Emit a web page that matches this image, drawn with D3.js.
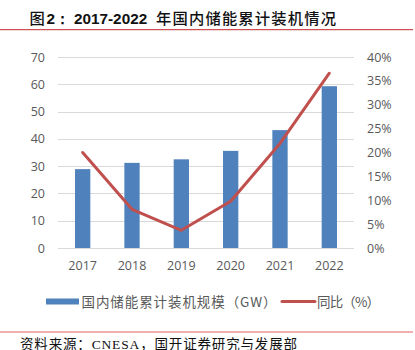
<!DOCTYPE html>
<html><head><meta charset="utf-8">
<script src="https://cdn.jsdelivr.net/npm/d3@7/dist/d3.min.js"></script>
<style>body{margin:0;background:#fff}svg{display:block}</style>
</head><body>
<script>
const years = ["2017","2018","2019","2020","2021","2022"];
const capacity = [28.9, 31.2, 32.5, 35.6, 43.2, 59.3];
const yoy = [20.0, 8.1, 3.7, 9.8, 21.9, 36.6];
const leftTicks = [0,10,20,30,40,50,60,70];
const rightTicks = [0,5,10,15,20,25,30,35,40];
const titleParts = ["图", "2：", "2017-2022", "年国内储能累计装机情况"];
const legendBar = "国内储能累计装机规模（GW）";
const legendLine = "同比（%）";
const source = "资料来源：CNESA，国开证券研究与发展部";

const W = 415, H = 350;
const svg = d3.select("body").append("svg").attr("width", W).attr("height", H);
const m = {l:58, r:354, t:57, b:248};
const x = d3.scaleBand().domain(years).range([m.l, m.r]).paddingInner(0.69).paddingOuter(0.345);
const yL = d3.scaleLinear().domain([0,70]).range([m.b, m.t]);
const yR = d3.scaleLinear().domain([0,40]).range([m.b, m.t]);
const tickFont = "'Open Sans', sans-serif";
const grey = "#595959";
const cjk = "'Noto Sans CJK SC', sans-serif";
const lat = "'Liberation Sans', Arial, sans-serif";

// title
const t = svg.append("text").attr("y",23.5).attr("font-size",15.3).attr("fill","#111");
t.append("tspan").attr("x",29.5).attr("font-family",cjk).attr("font-weight",500).text(titleParts[0]);
t.append("tspan").attr("x",46.5).attr("font-family",lat).attr("font-weight","bold").text(titleParts[1]);
t.append("tspan").attr("x",74).attr("font-family",lat).attr("font-weight","bold").text(titleParts[2]);
t.append("tspan").attr("x",156).attr("font-family",cjk).attr("font-weight",500)
  .attr("textLength",180).attr("lengthAdjust","spacing").text(titleParts[3]);
svg.append("line").attr("x1",0).attr("x2",413).attr("y1",29.7).attr("y2",29.7).attr("stroke","#c0282c").attr("stroke-width",1);

// gridlines
svg.append("g").selectAll("line").data(leftTicks).join("line")
  .attr("x1",m.l).attr("x2",m.r).attr("y1",d=>Math.round(yL(d))+0.5).attr("y2",d=>Math.round(yL(d))+0.5)
  .attr("stroke","#d9d9d9").attr("stroke-width",1);

// left axis
const gl = svg.append("g").attr("transform",`translate(${m.l},0)`)
  .call(d3.axisLeft(yL).tickValues(leftTicks).tickSize(0).tickPadding(13));
gl.select(".domain").remove();
gl.selectAll("text").attr("font-family",tickFont).attr("font-size",12.5).attr("fill",grey);

// right axis
const gr = svg.append("g").attr("transform",`translate(${m.r},0)`)
  .call(d3.axisRight(yR).tickValues(rightTicks).tickFormat(d=>d+"%").tickSize(0).tickPadding(13));
gr.select(".domain").remove();
gr.selectAll("text").attr("font-family",tickFont).attr("font-size",12.5).attr("fill",grey);

// x axis
const gx = svg.append("g").attr("transform",`translate(0,${m.b})`)
  .call(d3.axisBottom(x).tickSize(0).tickPadding(13));
gx.select(".domain").remove();
gx.selectAll("text").attr("font-family",tickFont).attr("font-size",12.5).attr("fill",grey);

// bars
svg.append("g").selectAll("rect").data(years).join("rect")
  .attr("x",d=>x(d)).attr("width",x.bandwidth())
  .attr("y",(d,i)=>yL(capacity[i])).attr("height",(d,i)=>yL(0)-yL(capacity[i]))
  .attr("fill","#4f81bd");

// line
const line = d3.line().x((d,i)=>x(years[i])+x.bandwidth()/2).y(d=>yR(d));
svg.append("path").datum(yoy).attr("d",line).attr("fill","none")
  .attr("stroke","#c0504d").attr("stroke-width",3).attr("stroke-linejoin","round").attr("stroke-linecap","round");

// legend
svg.append("rect").attr("x",46).attr("y",298.5).attr("width",33).attr("height",6).attr("fill","#4f81bd");
svg.append("text").attr("x",81.5).attr("y",306.5).attr("font-family",cjk).attr("font-size",13.5).attr("fill",grey)
  .attr("textLength",195).attr("lengthAdjust","spacing").text(legendBar);
svg.append("line").attr("x1",282).attr("x2",315).attr("y1",301.5).attr("y2",301.5).attr("stroke","#c0504d").attr("stroke-width",3).attr("stroke-linecap","round");
svg.append("text").attr("x",317).attr("y",306.5).attr("font-family",cjk).attr("font-size",13.5).attr("fill",grey)
  .attr("textLength",63).attr("lengthAdjust","spacing").text(legendLine);

// bottom
svg.append("line").attr("x1",0).attr("x2",413).attr("y1",332).attr("y2",332).attr("stroke","#e06060").attr("stroke-width",1);
svg.append("text").attr("x",20).attr("y",348.5).attr("font-family","'Liberation Serif', 'Noto Sans CJK SC', serif").attr("font-size",13.5).attr("fill","#111")
  .attr("textLength",277).attr("lengthAdjust","spacing").text(source);
</script>
</body></html>
